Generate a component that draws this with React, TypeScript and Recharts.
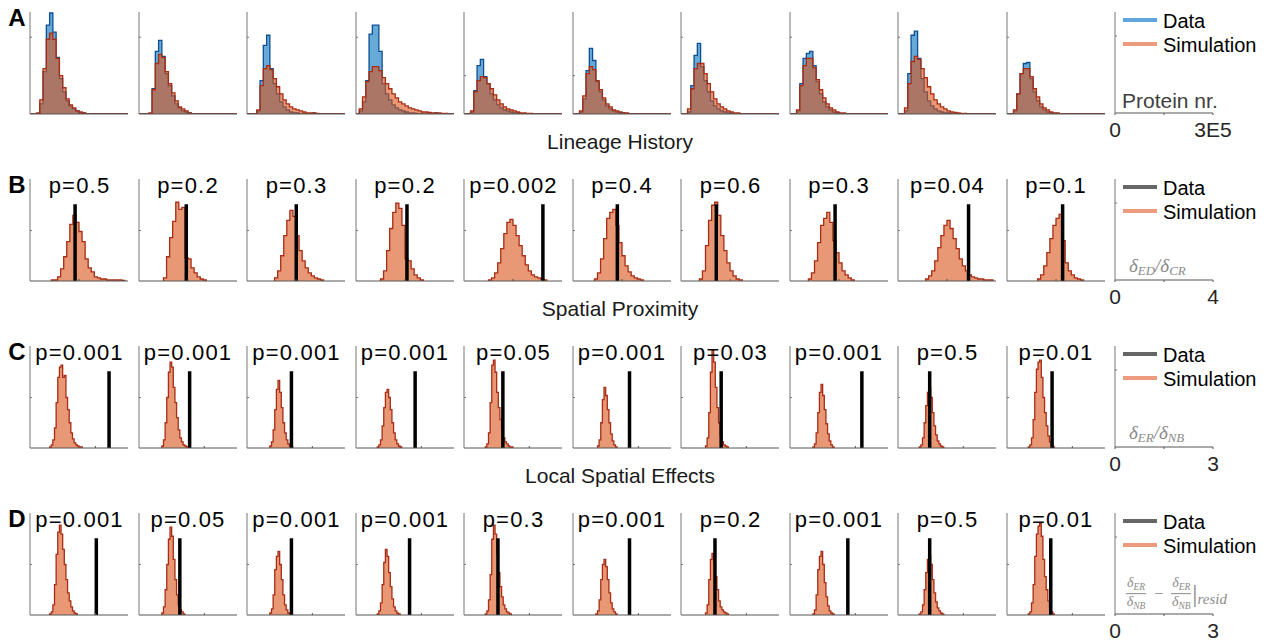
import React from "react";
import { ComposedChart, Area, XAxis, YAxis, ReferenceLine } from "recharts";

const rowLetters = ["A", "B", "C", "D"];
const rowTitles = ["Lineage History", "Spatial Proximity", "Local Spatial Effects"];

// A: protein number, bins of 1E4 from 0 to 3E5
const simA = [
  [0, 0, 1, 14, 45, 74, 80, 74, 55, 38, 26, 15, 9, 6, 3, 2, 1],
  [0, 0, 0, 1, 24, 50, 59, 56, 42, 30, 21, 13, 7, 5, 3, 1],
  [0, 0, 0, 4, 28, 45, 48, 44, 35, 27, 20, 14, 10, 7, 5, 4, 3, 2, 1, 1, 1, 0.5],
  [0, 5, 17, 32, 42, 47, 47, 43, 36, 30, 25, 20, 16, 12, 10, 8, 6, 5, 4, 3, 2, 2, 1.5, 1, 1, 1, 0.5, 0.5],
  [0, 0, 3, 22, 33, 37, 36, 30, 25, 19, 14, 10, 7, 5, 4, 3, 2, 1, 1, 0.5, 0.5],
  [0, 0, 3, 18, 40, 47, 44, 33, 24, 16, 10, 7, 4, 3, 2, 1, 1],
  [0, 0, 5, 25, 45, 50, 50, 40, 30, 22, 15, 10, 7, 5, 3, 2, 1, 1],
  [0, 0, 4, 28, 48, 55, 55, 46, 34, 24, 16, 10, 6, 4, 2, 1, 1],
  [0, 0, 6, 30, 52, 57, 54, 45, 36, 27, 20, 14, 10, 7, 5, 3, 2, 1.5, 1, 0.5, 0.5],
  [0, 0, 4, 20, 40, 45, 45, 37, 25, 17, 10, 6, 4, 2, 1, 1],
];
const dataA = [
  [0, 0, 0, 10, 42, 88, 100, 81, 56, 35, 22, 13, 8, 5, 3, 1, 1],
  [0, 0, 0, 0, 25, 62, 73, 57, 40, 28, 18, 10, 6, 3, 2, 1],
  [0, 0, 0, 3, 33, 68, 78, 45, 30, 20, 12, 7, 4, 2, 1, 1, 0, 0, 0, 0, 1],
  [0, 3, 12, 33, 79, 88, 88, 62, 30, 20, 14, 9, 6, 4, 3, 2, 1, 1, 0.5, 0, 0, 0, 0, 0, 1],
  [0, 0, 2, 23, 48, 54, 37, 30, 20, 14, 9, 6, 4, 3, 2, 1, 1],
  [0, 0, 2, 15, 43, 65, 53, 32, 22, 14, 8, 5, 3, 2, 1, 1],
  [0, 0, 2, 28, 58, 70, 47, 33, 22, 13, 8, 5, 3, 2, 1],
  [0, 0, 3, 30, 55, 60, 62, 48, 32, 20, 12, 7, 4, 2, 1],
  [0, 0, 3, 40, 78, 82, 55, 35, 22, 13, 8, 5, 3, 2, 1, 1],
  [0, 0, 3, 20, 40, 50, 51, 35, 22, 13, 7, 4, 2, 1],
];
const yTickA = [76, 76, 76, 76, 38, 38, 76, 76, 76, 76];

// B: dED/dCR, bins of 0.125 on [0, 4]
const startB = [7, 8, 9, 8, 8, 7, 6, 6, 9, 10];
const simB = [
  [1, 1, 4, 12, 24, 39, 56, 65, 58, 49, 39, 22, 13, 9, 4, 3, 2, 2, 1, 1, 1, 1, 1, 0.5],
  [3, 24, 43, 59, 78, 71, 73, 23, 22, 13, 8, 4, 2, 1],
  [3, 10, 25, 45, 60, 70, 64, 45, 30, 20, 13, 8, 5, 3, 2, 1],
  [2, 10, 30, 52, 68, 77, 72, 55, 22, 20, 12, 6, 3, 1],
  [1, 3, 8, 18, 32, 47, 58, 61, 55, 45, 35, 25, 16, 10, 6, 4, 3, 2, 1],
  [2, 8, 22, 42, 62, 68, 71, 55, 38, 25, 15, 9, 5, 3, 2, 1],
  [2, 10, 35, 60, 75, 78, 65, 45, 30, 18, 10, 5, 2, 1],
  [2, 8, 20, 38, 55, 62, 68, 58, 40, 28, 18, 10, 6, 3, 1],
  [2, 5, 10, 20, 33, 45, 55, 60, 52, 42, 32, 22, 15, 10, 6, 4, 3, 2, 2, 1, 1, 1],
  [2, 6, 15, 28, 42, 55, 62, 66, 40, 18, 10, 6, 3, 2, 1],
];
const lineB = [1.84, 1.93, 2.01, 2.08, 3.22, 1.81, 1.44, 1.84, 2.88, 2.27];
const pB = ["p=0.5", "p=0.2", "p=0.3", "p=0.2", "p=0.002", "p=0.4", "p=0.6", "p=0.3", "p=0.04", "p=0.1"];

// C: dER/dNB, bins of 0.05 on [0, 3]
const startC = [12, 14, 14, 13, 13, 15, 15, 14, 13, 13];
const simC = [
  [1, 3, 8, 20, 45, 70, 80, 82, 70, 72, 50, 38, 25, 15, 9, 5, 3, 2, 1, 1],
  [2, 8, 25, 50, 75, 85, 80, 60, 45, 30, 18, 10, 6, 3, 2, 1],
  [2, 6, 18, 38, 58, 67, 55, 40, 25, 15, 8, 4, 2, 1],
  [1, 3, 8, 22, 40, 55, 58, 50, 38, 25, 15, 8, 4, 2, 1],
  [1, 4, 15, 45, 82, 87, 75, 55, 40, 28, 18, 10, 6, 4, 2, 1, 1],
  [2, 8, 25, 48, 60, 52, 38, 25, 14, 7, 3, 1],
  [2, 10, 35, 75, 97, 85, 60, 40, 25, 12, 6, 3, 2, 1],
  [1, 4, 15, 35, 55, 63, 52, 38, 24, 14, 7, 3, 1],
  [1, 3, 10, 25, 42, 55, 60, 50, 35, 22, 13, 7, 4, 2, 1],
  [1, 3, 10, 28, 55, 78, 85, 87, 70, 50, 35, 22, 12, 6, 3, 1],
];
const lineC = [2.42, 1.55, 1.36, 1.81, 1.19, 1.73, 1.23, 2.2, 0.97, 1.38];
const pC = ["p=0.001", "p=0.001", "p=0.001", "p=0.001", "p=0.05", "p=0.001", "p=0.03", "p=0.001", "p=0.5", "p=0.01"];

// D: dER/dNB - residual, bins of 0.05 on [0, 3]
const startD = [12, 14, 14, 13, 13, 14, 15, 14, 13, 13];
const simD = [
  [1, 3, 10, 30, 60, 82, 89, 80, 65, 50, 35, 22, 14, 8, 4, 2, 1],
  [2, 8, 25, 50, 75, 87, 78, 55, 35, 20, 10, 5, 3, 1],
  [2, 6, 20, 45, 58, 63, 50, 35, 20, 10, 5, 2, 1],
  [1, 4, 12, 30, 52, 65, 58, 42, 28, 16, 8, 4, 2, 1],
  [1, 4, 15, 40, 75, 89, 80, 60, 42, 28, 18, 10, 6, 3, 2, 1],
  [1, 4, 15, 35, 50, 55, 48, 35, 22, 12, 6, 3, 1],
  [2, 10, 35, 55, 61, 52, 38, 25, 14, 8, 5, 3, 2, 1],
  [1, 5, 20, 45, 58, 63, 50, 32, 18, 9, 4, 2, 1],
  [1, 3, 10, 25, 42, 55, 59, 50, 35, 22, 13, 7, 4, 2, 1],
  [1, 3, 12, 30, 58, 80, 88, 91, 78, 55, 38, 25, 14, 7, 3, 1],
];
const lineD = [2.03, 1.25, 1.36, 1.64, 1.04, 1.73, 1.04, 1.77, 0.97, 1.34];
const pD = ["p=0.001", "p=0.05", "p=0.001", "p=0.001", "p=0.3", "p=0.001", "p=0.2", "p=0.001", "p=0.5", "p=0.01"];

const xMaxes = [300000, 4, 3, 3];
const xEndLabels = ["3E5", "4", "3", "3"];
const xTickRows = [[150000], [2], [2], [2]];

const PW = 97;
const PH = 101;
// axes get 1px of room each, so the margins are 1px smaller on those sides
const M = { top: 4, right: 8, bottom: 39, left: 7 };
const colX = (i: number) => 31 + i * 108.5;
const rowY = (r: number) => 12 + r * 167;

const SIM_FILL = "#D95319";
const SIM_EDGE = "#A82D14";
const DAT_FILL = "#0072BD";
const DAT_EDGE = "#0D4F95";
const FONT = '"Liberation Sans", Arial, sans-serif';

function tableA(i: number) {
  const rows = [];
  for (let b = 0; b <= 30; b++) {
    rows.push({ x: b * 10000, sim: simA[i][b] ?? 0, dat: dataA[i][b] ?? 0 });
  }
  return rows;
}

function tableSim(start: number, vals: number[], w: number) {
  return [
    { x: start * w, sim: 0 },
    ...vals.map((v, k) => ({ x: (start + k) * w, sim: v })),
    { x: (start + vals.length) * w, sim: 0 },
  ];
}

function Panel({ col, row, data, series, xMax, xTicks, yTicks, line }: any) {
  return (
    <div style={{ position: "absolute", left: colX(col) - M.left - 1, top: rowY(row) - M.top }}>
      <ComposedChart width={PW + M.left + M.right + 1} height={PH + M.top + M.bottom + 1} data={data} margin={M}>
        <XAxis
          type="number"
          dataKey="x"
          domain={[0, xMax]}
          allowDataOverflow
          ticks={xTicks}
          interval={0}
          height={1}
          mirror
          tickSize={2}
          tickFormatter={() => ""}
          axisLine={{ stroke: "#555" }}
          tickLine={{ stroke: "#555" }}
        />
        <YAxis
          type="number"
          domain={[0, 101]}
          allowDataOverflow
          ticks={yTicks}
          interval={0}
          width={1}
          mirror
          tickSize={2}
          tickFormatter={() => ""}
          axisLine={{ stroke: "#777" }}
          tickLine={{ stroke: "#777" }}
        />
        {series.includes("dat") && (
          <Area type="stepAfter" dataKey="dat" stroke={DAT_EDGE} strokeWidth={1.3} fill={DAT_FILL} fillOpacity={0.6} dot={false} activeDot={false} isAnimationActive={false} />
        )}
        <Area type="stepAfter" dataKey="sim" stroke={SIM_EDGE} strokeWidth={1.3} fill={SIM_FILL} fillOpacity={0.6} dot={false} activeDot={false} isAnimationActive={false} />
        {line != null && (
          <ReferenceLine segment={[{ x: line, y: 0 }, { x: line, y: 76 }]} stroke="#000" strokeWidth={3.5} />
        )}
      </ComposedChart>
    </div>
  );
}

function LegendPanel({ row }: { row: number }) {
  const xMax = xMaxes[row];
  const T = rowY(row);
  const L = colX(10);
  const dataColor = row === 0 ? "#5DA5DA" : "#666666";
  return (
    <>
      <div style={{ position: "absolute", left: L - M.left - 1, top: T - M.top }}>
        <ComposedChart
          width={PW + M.left + M.right + 21}
          height={PH + M.top + M.bottom + 1}
          data={[{ x: 0, y: 0 }, { x: xMax, y: 0 }]}
          margin={{ ...M, right: M.right + 20 }}
        >
          <XAxis
            type="number"
            dataKey="x"
            domain={[0, xMax]}
            allowDataOverflow
            ticks={[0, xMax / 2, xMax]}
            interval={0}
            height={1}
            tickSize={2}
            tickMargin={7}
            tickFormatter={(v: number) => (v === 0 ? "0" : v === xMax ? xEndLabels[row] : "")}
            tick={{ fontSize: 21, fill: "#262626", fontFamily: FONT }}
            axisLine={{ stroke: "#555" }}
            tickLine={{ stroke: "#555" }}
          />
          <YAxis
            type="number"
            domain={[0, 101]}
            allowDataOverflow
            ticks={[77]}
            interval={0}
            width={1}
            mirror
            tickSize={2}
            tickFormatter={() => ""}
            axisLine={{ stroke: "#777" }}
            tickLine={{ stroke: "#777" }}
          />
          <Area type="linear" dataKey="y" stroke="none" fill="none" dot={false} activeDot={false} isAnimationActive={false} />
        </ComposedChart>
      </div>
      {[
        { name: "Data", color: dataColor, dy: 8 },
        { name: "Simulation", color: "#EC9B7E", dy: 32 },
      ].map((it) => (
        <React.Fragment key={it.name}>
          <div style={{ position: "absolute", left: 1123, top: T + it.dy - 2, width: 34, height: 4, background: it.color }} />
          <div style={{ position: "absolute", left: 1163, top: T + it.dy + 1, transform: "translateY(-50%)", fontSize: 20, lineHeight: 1, whiteSpace: "nowrap" }}>
            {it.name}
          </div>
        </React.Fragment>
      ))}
    </>
  );
}

const mathStyle: React.CSSProperties = {
  fontFamily: '"Liberation Serif", "DejaVu Serif", serif',
  fontStyle: "italic",
  color: "#8a8a8a",
  whiteSpace: "nowrap",
  lineHeight: 1,
};
const subStyle: React.CSSProperties = { fontSize: "0.68em", verticalAlign: "-0.3em" };

function Frac({ a, b }: { a: string; b: string }) {
  return (
    <span style={{ display: "inline-flex", flexDirection: "column", alignItems: "center", fontSize: 14 }}>
      <span style={{ borderBottom: "1px solid #8a8a8a", padding: "0 1px 1px" }}>
        δ<span style={subStyle}>{a}</span>
      </span>
      <span style={{ paddingTop: 1 }}>
        δ<span style={subStyle}>{b}</span>
      </span>
    </span>
  );
}

function AxisLabels() {
  const c = { position: "absolute" as const, transform: "translateY(-50%)" };
  return (
    <>
      <div style={{ ...c, left: 1122, top: rowY(0) + 88, fontSize: 21, lineHeight: 1, color: "#404040", whiteSpace: "nowrap" }}>Protein nr.</div>
      <div style={{ ...c, ...mathStyle, left: 1129, top: rowY(1) + 88, fontSize: 19 }}>
        δ<span style={subStyle}>ED</span>/δ<span style={subStyle}>CR</span>
      </div>
      <div style={{ ...c, ...mathStyle, left: 1129, top: rowY(2) + 88, fontSize: 19 }}>
        δ<span style={subStyle}>ER</span>/δ<span style={subStyle}>NB</span>
      </div>
      <div style={{ ...c, ...mathStyle, left: 1126, top: rowY(3) + 81, display: "flex", alignItems: "center" }}>
        <Frac a="ER" b="NB" />
        <span style={{ fontStyle: "normal", margin: "0 8px", fontSize: 16 }}>−</span>
        <Frac a="ER" b="NB" />
        <span style={{ fontStyle: "normal", fontSize: 26, marginLeft: 1 }}>|</span>
        <span style={{ fontSize: 15, position: "relative", top: 6 }}>resid</span>
      </div>
    </>
  );
}

export default function App() {
  const rowsBD = [
    { start: startB, sim: simB, line: lineB, p: pB, w: 0.125 },
    { start: startC, sim: simC, line: lineC, p: pC, w: 0.05 },
    { start: startD, sim: simD, line: lineD, p: pD, w: 0.05 },
  ];
  return (
    <div style={{ position: "absolute", left: 0, top: 0, width: 1268, height: 644, background: "#fff", fontFamily: FONT, color: "#000", overflow: "hidden" }}>
      {simA.map((_, i) => (
        <Panel key={"A" + i} col={i} row={0} data={tableA(i)} series={["dat", "sim"]} xMax={300000} xTicks={xTickRows[0]} yTicks={[yTickA[i]]} />
      ))}
      {rowsBD.map((r, ri) =>
        r.sim.map((vals, i) => (
          <Panel
            key={ri + "-" + i}
            col={i}
            row={ri + 1}
            data={tableSim(r.start[i], vals, r.w)}
            series={["sim"]}
            xMax={xMaxes[ri + 1]}
            xTicks={xTickRows[ri + 1]}
            yTicks={[50]}
            line={r.line[i]}
          />
        ))
      )}
      {rowsBD.map((r, ri) =>
        r.p.map((txt, i) => (
          <div
            key={"p" + ri + i}
            style={{ position: "absolute", left: colX(i) + PW / 2, top: rowY(ri + 1) + 7, transform: "translate(-50%,-50%)", fontSize: 22, letterSpacing: 1.2, lineHeight: 1, whiteSpace: "nowrap" }}
          >
            {txt}
          </div>
        ))
      )}
      {rowLetters.map((l, r) => (
        <div key={l} style={{ position: "absolute", left: 17, top: rowY(r) + 6, transform: "translate(-50%,-50%)", fontSize: 24, fontWeight: "bold", lineHeight: 1 }}>
          {l}
        </div>
      ))}
      {rowTitles.map((t, r) => (
        <div key={t} style={{ position: "absolute", left: 620, top: rowY(r) + 129, transform: "translate(-50%,-50%)", fontSize: 21, lineHeight: 1, whiteSpace: "nowrap", color: "#1a1a1a" }}>
          {t}
        </div>
      ))}
      {[0, 1, 2, 3].map((r) => (
        <LegendPanel key={"L" + r} row={r} />
      ))}
      <AxisLabels />
    </div>
  );
}
